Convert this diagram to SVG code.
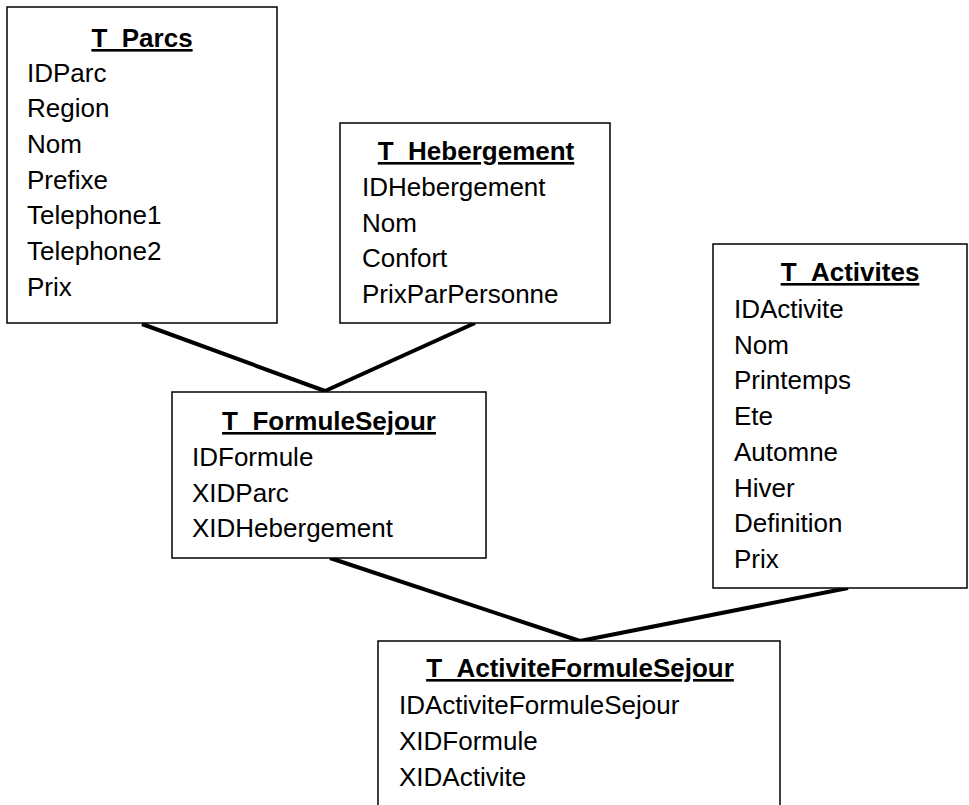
<svg xmlns="http://www.w3.org/2000/svg" width="969" height="805" viewBox="0 0 969 805">
<style>
.box{fill:#fff;stroke:#000;stroke-width:1.5}
.t{font-family:"Liberation Sans",Arial,sans-serif;font-size:26px;fill:#000}
.h{font-weight:bold;text-anchor:middle;text-decoration:underline}
.c{stroke:#000;stroke-width:4;fill:none;stroke-linecap:butt}
</style>
<rect width="969" height="805" fill="#fff"/>
<g id="connectors">
<line class="c" x1="142" y1="324" x2="325" y2="391"/>
<line class="c" x1="475" y1="323" x2="325" y2="391"/>
<line class="c" x1="330" y1="558" x2="580" y2="641"/>
<line class="c" x1="848" y1="588" x2="580" y2="641"/>
</g>
<g id="T_Parcs">
<rect class="box" x="7" y="7" width="270" height="316"/>
<text class="t h" x="142" y="47">T_Parcs</text>
<text class="t" x="27" y="82">IDParc</text>
<text class="t" x="27" y="117">Region</text>
<text class="t" x="27" y="153">Nom</text>
<text class="t" x="27" y="189">Prefixe</text>
<text class="t" x="27" y="224">Telephone1</text>
<text class="t" x="27" y="260">Telephone2</text>
<text class="t" x="27" y="296">Prix</text>
</g>
<g id="T_Hebergement">
<rect class="box" x="340" y="123" width="270" height="200"/>
<text class="t h" x="476" y="160">T_Hebergement</text>
<text class="t" x="362" y="196">IDHebergement</text>
<text class="t" x="362" y="232">Nom</text>
<text class="t" x="362" y="267">Confort</text>
<text class="t" x="362" y="303">PrixParPersonne</text>
</g>
<g id="T_Activites">
<rect class="box" x="713" y="244" width="254" height="344"/>
<text class="t h" x="850" y="281">T_Activites</text>
<text class="t" x="734" y="318">IDActivite</text>
<text class="t" x="734" y="354">Nom</text>
<text class="t" x="734" y="389">Printemps</text>
<text class="t" x="734" y="425">Ete</text>
<text class="t" x="734" y="461">Automne</text>
<text class="t" x="734" y="497">Hiver</text>
<text class="t" x="734" y="532">Definition</text>
<text class="t" x="734" y="568">Prix</text>
</g>
<g id="T_FormuleSejour">
<rect class="box" x="172" y="392" width="314" height="166"/>
<text class="t h" x="329" y="430">T_FormuleSejour</text>
<text class="t" x="192" y="466">IDFormule</text>
<text class="t" x="192" y="502">XIDParc</text>
<text class="t" x="192" y="537">XIDHebergement</text>
</g>
<g id="T_ActiviteFormuleSejour">
<rect class="box" x="378" y="641" width="402" height="180"/>
<text class="t h" x="580" y="677">T_ActiviteFormuleSejour</text>
<text class="t" x="399" y="714">IDActiviteFormuleSejour</text>
<text class="t" x="399" y="750">XIDFormule</text>
<text class="t" x="399" y="786">XIDActivite</text>
</g>
</svg>
